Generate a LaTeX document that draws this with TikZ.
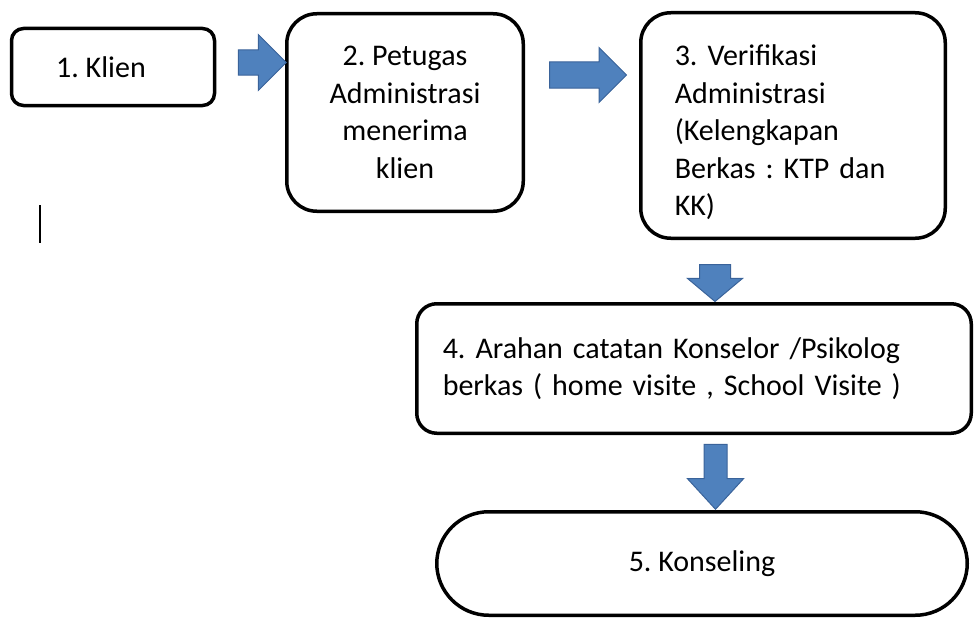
\documentclass[tikz,border=0pt]{standalone}
\usepackage{fontspec}
\setmainfont{Carlito}
\frenchspacing
\usetikzlibrary{shapes.arrows}
\definecolor{flowblue}{HTML}{4F81BD}
\definecolor{flowedge}{HTML}{3A639A}
\tikzset{
  stepbox/.style={draw, line width=3.5pt, rounded corners=12pt, inner sep=0pt,
    font=\fontsize{30}{37.5}\selectfont},
  blockarrow/.style={single arrow, fill=flowblue, draw=flowedge, line width=1pt,
    inner sep=0pt, single arrow head indent=0pt}
}
\newcommand{\shaft}[1]{\rule{0pt}{#1}}
\begin{document}
\begin{tikzpicture}[x=1pt,y=-1pt]
\useasboundingbox (0,0) rectangle (974,618);
% langkah-langkah
\node[stepbox, minimum width=203pt, minimum height=77pt] (klien) at (113,67) {\hspace*{-24pt}1. Klien};
\node[stepbox, rounded corners=30pt, minimum width=236.5pt, minimum height=197.5pt, align=center] (petugas) at (405,112.5)
  {2. Petugas\\Administrasi\\menerima\\klien};
\node[stepbox, rounded corners=30pt, minimum height=225.5pt, text width=236.5pt, inner xsep=34pt, align=left] (verif) at (793,125.5)
  {\shaft{35pt}3. Verifikasi\\Administrasi\\(Kelengkapan\\Berkas : KTP dan\\KK)};
\node[stepbox, rounded corners=20pt, minimum height=129.5pt, text width=502.5pt, inner xsep=26pt, align=left] (arahan) at (694,368.5)
  {4. Arahan catatan Konselor /Psikolog\\berkas ( home visite , School Visite )};
\node[stepbox, rounded corners=52pt, minimum width=530.5pt, minimum height=103.5pt] (konseling) at (702,563.5) {5. Konseling};
% panah biru
\node[blockarrow, minimum height=48pt, minimum width=55pt, single arrow head extend=15.5pt] (p1) at (256,62.5) {\shaft{24pt}};
\node[blockarrow, minimum height=77pt, minimum width=54pt, single arrow head extend=14.5pt] (p2) at (581.5,75) {\shaft{25pt}};
\node[blockarrow, rotate=-90, minimum height=37pt, minimum width=54pt, single arrow head extend=12pt, single arrow tip angle=100] (p3) at (715,276.5) {\shaft{30pt}};
\node[blockarrow, rotate=-90, minimum height=65pt, minimum width=55pt, single arrow head extend=16.5pt, single arrow tip angle=85] (p4) at (715.5,470.5) {\shaft{22pt}};
% kursor
\draw[line width=1.5pt] (40,205) -- (40,243);
\end{tikzpicture}
\end{document}
